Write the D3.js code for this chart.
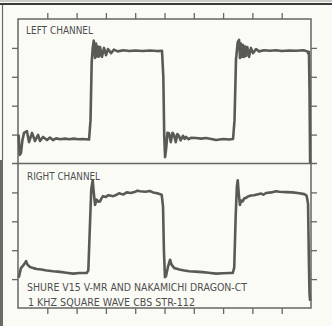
<!DOCTYPE html>
<html><head><meta charset="utf-8">
<script src="https://cdn.jsdelivr.net/npm/d3@7"></script>
<style>
html,body{margin:0;padding:0;background:#fbfbf6;}
svg{display:block;}
text{font-family:"DejaVu Sans Condensed","DejaVu Sans","Liberation Sans",sans-serif;font-stretch:condensed;}
</style></head><body>
<svg id="chart" width="332" height="326"></svg>
<script>
// time in ms (2 periods of 1 kHz), amplitude in graticule divisions (0..5 per panel)
const xTicks = [0.2, 0.4, 0.6, 0.8, 1.0, 1.2, 1.4, 1.6, 1.8];
const yTicks = [1, 2, 3, 4];
const panelLabels = ["LEFT CHANNEL", "RIGHT CHANNEL"];
const captionLines = ["SHURE V15 V-MR AND NAKAMICHI DRAGON-CT", "1 KHZ SQUARE WAVE CBS STR-112"];

const leftT = [0.004,0.012,0.020,0.030,0.041,0.061,0.075,0.096,0.116,0.137,0.150,0.171,0.198,0.218,0.239,0.26,0.29,0.32,0.35,0.38,0.41,0.44,0.485,
  0.495,0.503,0.510,0.517,0.526,0.533,0.539,0.546,0.553,0.560,0.573,0.587,0.601,0.614,0.635,0.655,0.68,0.72,0.76,0.80,0.85,0.90,0.95,0.983,
  0.992,0.998,1.004,1.012,1.020,1.031,1.043,1.055,1.065,1.077,1.088,1.099,1.110,1.126,1.137,1.147,1.165,1.181,1.215,1.25,1.283,1.32,1.352,1.40,1.44,1.468,
  1.478,1.488,1.500,1.509,1.515,1.522,1.529,1.536,1.543,1.550,1.556,1.565,1.577,1.590,1.604,1.625,1.645,1.68,1.72,1.76,1.80,1.85,1.90,1.95,1.975,1.982,1.986,1.990,1.994];
const leftV = [1.00,0.30,0.36,0.80,1.06,1.12,0.74,1.06,0.78,0.99,0.78,0.92,0.81,0.90,0.81,0.87,0.84,0.86,0.84,0.86,0.84,0.85,0.83,
  1.50,3.50,4.00,4.25,3.65,4.15,3.70,4.05,3.70,4.03,3.69,4.00,3.75,3.96,3.82,3.94,3.88,3.92,3.89,3.91,3.89,3.91,3.89,3.90,
  3.00,1.00,0.22,0.55,1.06,1.05,0.74,1.06,0.99,0.74,1.02,0.95,0.80,0.96,0.85,0.92,0.84,0.89,0.88,0.86,0.88,0.85,0.81,0.85,0.83,0.85,
  1.50,3.60,4.20,4.28,3.65,4.15,3.69,4.10,3.69,4.05,3.72,4.03,3.69,4.00,3.82,3.96,3.88,3.92,3.90,3.92,3.89,3.91,3.90,3.92,3.88,3.80,3.86,2.50,0.02];

const rightT = [0.005,0.020,0.040,0.055,0.065,0.082,0.105,0.128,0.16,0.196,0.24,0.287,0.33,0.375,0.42,0.469,
  0.480,0.492,0.500,0.510,0.517,0.526,0.537,0.548,0.560,0.570,0.580,0.60,0.615,0.628,0.65,0.674,0.69,0.70,0.72,0.742,0.77,0.80,0.815,0.833,0.87,0.90,0.922,0.95,0.981,
  0.990,0.996,1.003,1.010,1.025,1.038,1.048,1.067,1.085,1.101,1.135,1.169,1.21,1.261,1.30,1.352,1.40,1.445,1.466,
  1.476,1.486,1.494,1.500,1.507,1.515,1.524,1.534,1.545,1.556,1.570,1.590,1.61,1.625,1.66,1.675,1.693,1.73,1.76,1.784,1.83,1.875,1.92,1.954,1.970,
  1.980,1.986,1.990,1.994];
const rightV = [1.05,1.38,1.50,1.62,1.50,1.42,1.38,1.35,1.33,1.30,1.27,1.25,1.22,1.19,1.21,1.21,
  1.30,3.00,4.10,4.42,4.00,3.57,3.75,3.68,3.69,3.80,3.87,3.84,3.90,3.89,3.87,3.92,3.97,3.95,3.93,4.00,3.98,4.02,4.06,4.04,4.02,4.05,4.00,3.97,3.92,
  3.50,2.00,1.07,1.10,1.45,1.67,1.50,1.38,1.36,1.33,1.30,1.27,1.26,1.24,1.22,1.19,1.20,1.21,1.21,
  1.40,3.20,4.20,4.42,3.95,3.57,3.72,3.69,3.80,3.81,3.86,3.89,3.90,3.92,3.96,3.92,3.98,4.00,4.04,4.02,4.01,4.00,3.97,3.94,3.89,
  3.60,1.50,0.50,0.25];

const svg = d3.select("#chart");
const L = 18, R = 311, T = 19, B = 308, M = (T + B) / 2;
const ink = "#5a5a55";

const x = d3.scaleLinear().domain([0, 2]).range([L, R]);
const yTop = d3.scaleLinear().domain([0, 5]).range([M, T]);
const yBot = d3.scaleLinear().domain([0, 5]).range([B, M]);

// scan frame remnants
svg.append("rect").attr("x",0).attr("y",0).attr("width",332).attr("height",326).attr("fill","#fbfbf6");
svg.append("line").attr("x1",0).attr("x2",332).attr("y1",4).attr("y2",4).attr("stroke","#3a3a38").attr("stroke-width",2.2);
svg.append("line").attr("x1",0).attr("x2",332).attr("y1",1).attr("y2",1).attr("stroke","#9a9a96").attr("stroke-width",1);
svg.append("line").attr("x1",2.5).attr("x2",2.5).attr("y1",5).attr("y2",160).attr("stroke","#6a6a66").attr("stroke-width",1.2);
svg.append("line").attr("x1",1.5).attr("x2",1.5).attr("y1",160).attr("y2",326).attr("stroke","#6a6a66").attr("stroke-width",3);

// axes (ticks only)
function styleAxis(g){ g.select(".domain").remove(); g.selectAll("line").attr("stroke", "#666").attr("stroke-width",1.3); g.selectAll("text").remove(); }
svg.append("g").attr("transform",`translate(0,${T})`).call(d3.axisTop(x).tickValues(xTicks).tickSize(6).tickFormat("")).call(styleAxis);
svg.append("g").attr("transform",`translate(0,${B})`).call(d3.axisBottom(x).tickValues(xTicks).tickSize(6).tickFormat("")).call(styleAxis);
[yTop, yBot].forEach(ys => {
  svg.append("g").attr("transform",`translate(${L},0)`).call(d3.axisLeft(ys).tickValues(yTicks).tickSize(6).tickFormat("")).call(styleAxis);
  svg.append("g").attr("transform",`translate(${R},0)`).call(d3.axisRight(ys).tickValues(yTicks).tickSize(6).tickFormat("")).call(styleAxis);
});

// graticule box and divider
svg.append("rect").attr("x",L).attr("y",T).attr("width",R-L).attr("height",B-T)
  .attr("fill","none").attr("stroke","#666").attr("stroke-width",1.5);
svg.append("line").attr("x1",L-6).attr("x2",R+6).attr("y1",M).attr("y2",M).attr("stroke","#666").attr("stroke-width",1.5);

// traces
const lineTop = d3.line().x(d => x(d[0])).y(d => yTop(d[1]));
const lineBot = d3.line().x(d => x(d[0])).y(d => yBot(d[1]));
svg.append("path").datum(d3.zip(leftT, leftV)).attr("d", lineTop)
  .attr("fill","none").attr("stroke",ink).attr("stroke-width",2.6).attr("stroke-linejoin","round");
svg.append("path").datum(d3.zip(rightT, rightV)).attr("d", lineBot)
  .attr("fill","none").attr("stroke",ink).attr("stroke-width",2.6).attr("stroke-linejoin","round");

// labels
const txt = (s, xx, yy, w) => svg.append("text").attr("x",xx).attr("y",yy).text(s)
  .attr("font-size",10.4).attr("fill","#4e4e4e").attr("textLength",w).attr("lengthAdjust","spacingAndGlyphs");
txt(panelLabels[0], 26, 33.5, 67);
txt(panelLabels[1], 27, 179.5, 73);
txt(captionLines[0], 27, 290.5, 220);
txt(captionLines[1], 28, 305.5, 167);
</script></body></html>
